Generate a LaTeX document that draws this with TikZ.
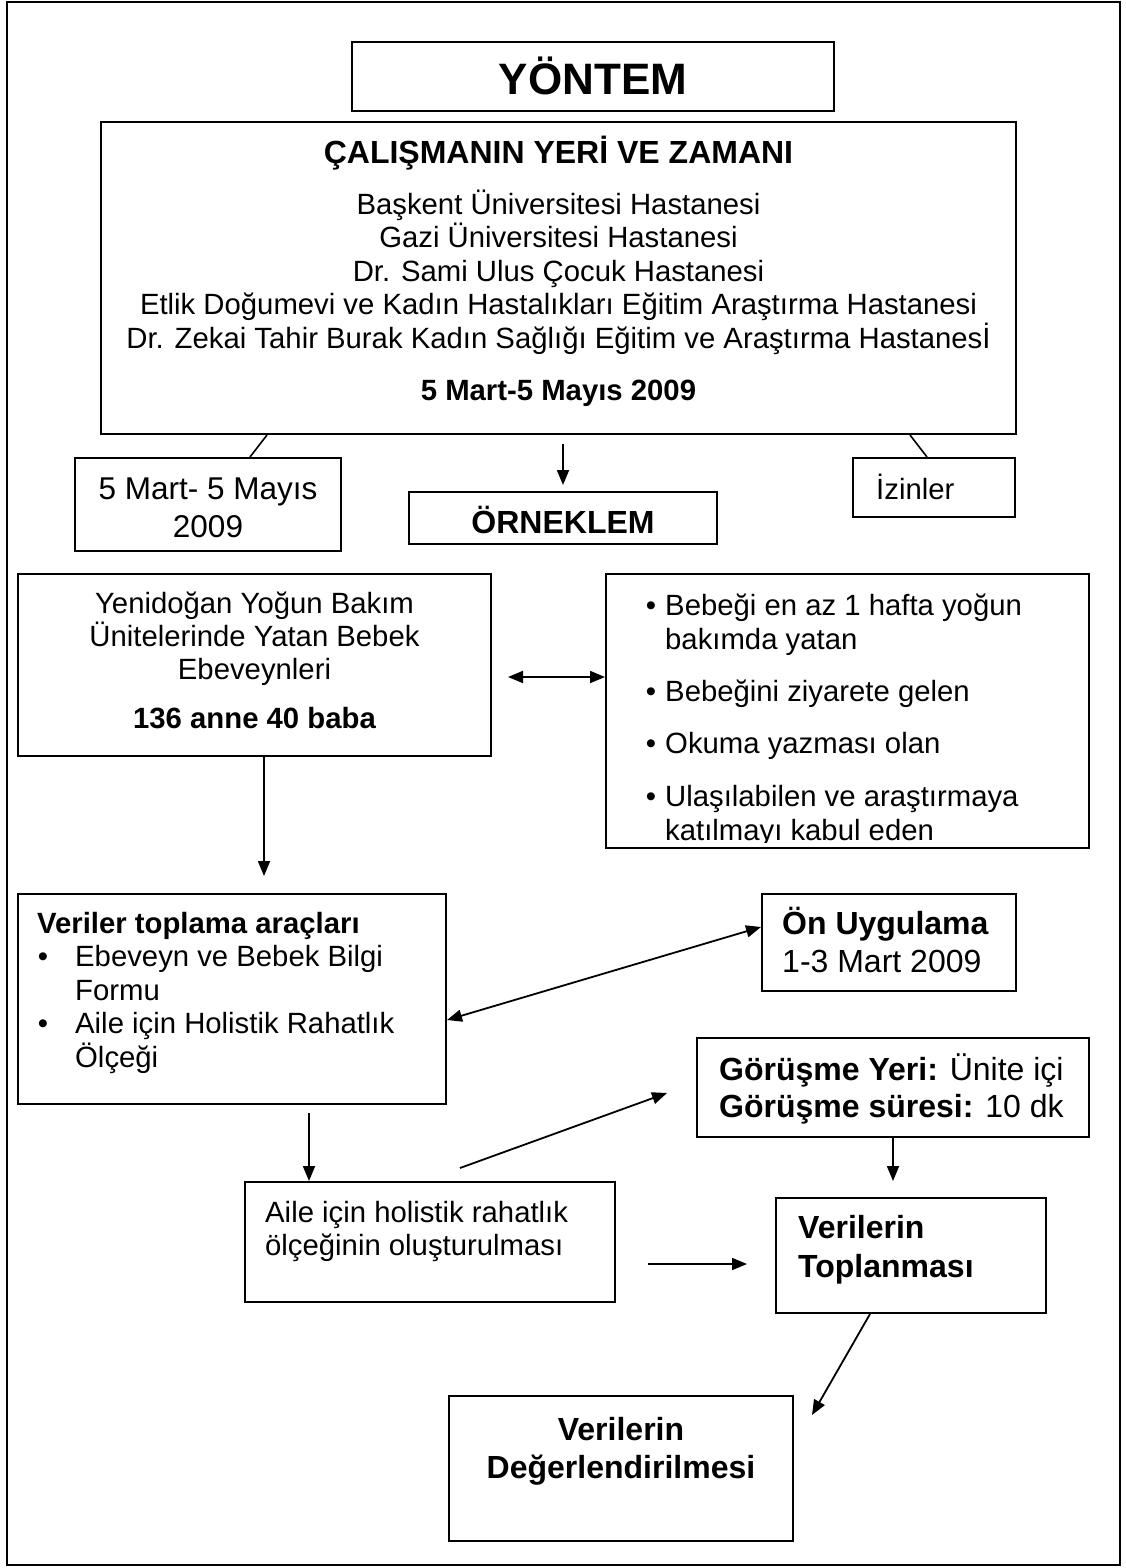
\documentclass[tikz,border=0pt]{standalone}
\usepackage{fontspec}
\setmainfont{Liberation Sans}
\usetikzlibrary{arrows.meta}
\newcommand\fnorm{\fontsize{29.3}{33.5}\selectfont}
\newcommand\fmid{\fontsize{31.5}{37}\selectfont}
\newcommand\fhead{\fontsize{32}{37}\selectfont}
\newcommand\ftitle{\fontsize{44}{50}\selectfont}
\begin{document}
\begin{tikzpicture}[x=1pt,y=-1pt,
  box/.style={draw, line width=2pt, inner sep=0pt, rectangle},
  t/.style={inner sep=0pt, anchor=base, font=\fnorm},
  tl/.style={t, anchor=base west},
  link/.style={line width=1.6pt},
  arr/.style={line width=1.8pt, -{Triangle[length=15pt,width=12pt]}},
  darr/.style={line width=1.8pt, {Triangle[length=15pt,width=12pt]}-{Triangle[length=15pt,width=12pt]}},
]
\useasboundingbox (0,0) rectangle (1126,1568);
\draw[line width=2pt] (7,2) rectangle (1120,1565);

% boxes
\node[box, minimum width=482, minimum height=69]  (yontem) at (593,76.5) {};
\node[box, minimum width=915, minimum height=312] (big)    at (558.5,278) {};
\node[box, minimum width=266, minimum height=93]  (mart)   at (208,504.5) {};
\node[box, minimum width=308, minimum height=52]  (orn)    at (563,518) {};
\node[box, minimum width=162, minimum height=59]  (izin)   at (934,487.5) {};
\node[box, minimum width=473, minimum height=182] (yeni)   at (254.5,665) {};
\node[box, minimum width=483, minimum height=274] (crit)   at (847.5,711) {};
\node[box, minimum width=428, minimum height=210] (veri)   at (232,999) {};
\node[box, minimum width=254, minimum height=97]  (on)     at (889,942.5) {};
\node[box, minimum width=392, minimum height=99]  (gor)    at (893,1087.5) {};
\node[box, minimum width=370, minimum height=120] (aile)   at (430,1242) {};
\node[box, minimum width=270, minimum height=115] (top)    at (911,1255.5) {};
\node[box, minimum width=344, minimum height=145] (deg)    at (621,1468.5) {};

% texts
\node[t, font=\ftitle\bfseries] (yontemT) at (593,95) {YÖNTEM};
\node[t, font=\fhead\bfseries] (bigH) at (558.5,164) {ÇALIŞMANIN YERİ VE ZAMANI};
\node[t] (bigA) at (558.5,214) {Başkent Üniversitesi Hastanesi};
\node[t] (bigB) at (558.5,247.5) {Gazi Üniversitesi Hastanesi};
\node[t] (bigC) at (558.5,281) {Dr. Sami Ulus Çocuk Hastanesi};
\node[t] (bigD) at (558.5,314.5) {Etlik Doğumevi ve Kadın Hastalıkları Eğitim Araştırma Hastanesi};
\node[t] (bigE) at (558.5,348) {Dr. Zekai Tahir Burak Kadın Sağlığı Eğitim ve Araştırma Hastanesİ};
\node[t, font=\fnorm\bfseries] (bigF) at (558.5,400) {5 Mart-5 Mayıs 2009};

\node[t, font=\fmid] (martA) at (208,499) {5 Mart- 5 Mayıs};
\node[t, font=\fmid] (martB) at (208,537) {2009};
\node[t, font=\fhead\bfseries] (ornT) at (563,533) {ÖRNEKLEM};
\node[tl] (izinT) at (876,499) {İzinler};

\node[t] (yeniA) at (254.5,613) {Yenidoğan Yoğun Bakım};
\node[t] (yeniB) at (254.5,646) {Ünitelerinde Yatan Bebek};
\node[t] (yeniC) at (254.5,679) {Ebeveynleri};
\node[t, font=\fnorm\bfseries] (yeniD) at (254.5,728) {136 anne 40 baba};

\node[t] (critB1) at (651,615) {•};
\node[tl] (crit1a) at (665,615) {Bebeği en az 1 hafta yoğun};
\node[tl] (crit1b) at (665,649) {bakımda yatan};
\node[t] (critB2) at (651,701) {•};
\node[tl] (crit2) at (665,701) {Bebeğini ziyarete gelen};
\node[t] (critB3) at (651,753) {•};
\node[tl] (crit3) at (665,753) {Okuma yazması olan};
\node[t] (critB4) at (651,806) {•};
\node[tl] (crit4a) at (665,806) {Ulaşılabilen ve araştırmaya};
\begin{scope}
\clip (606,790) rectangle (1089,842);
\node[tl] (crit4b) at (665,840) {katılmayı kabul eden};
\end{scope}

\node[tl, font=\fnorm\bfseries] (veriH) at (37,933) {Veriler toplama araçları};
\node[t] (veriB1) at (43,966.5) {•};
\node[tl] (veri1a) at (75,966.5) {Ebeveyn ve Bebek Bilgi};
\node[tl] (veri1b) at (75,1000) {Formu};
\node[t] (veriB2) at (43,1033.5) {•};
\node[tl] (veri2a) at (75,1033.5) {Aile için Holistik Rahatlık};
\node[tl] (veri2b) at (75,1067) {Ölçeği};

\node[tl, font=\fhead\bfseries] (onA) at (782,934) {Ön Uygulama};
\node[tl, font=\fhead] (onB) at (782,972) {1-3 Mart 2009};

\node[tl, font=\fhead] (gorA) at (719,1080) {\bfseries Görüşme Yeri:\mdseries{} Ünite içi};
\node[tl, font=\fhead] (gorB) at (719,1117) {\bfseries Görüşme süresi:\mdseries{} 10 dk};

\node[tl] (aileA) at (265,1222) {Aile için holistik rahatlık};
\node[tl] (aileB) at (265,1255) {ölçeğinin oluşturulması};

\node[tl, font=\fhead\bfseries] (topA) at (798,1238) {Verilerin};
\node[tl, font=\fhead\bfseries] (topB) at (798,1277) {Toplanması};

\node[t, font=\fhead\bfseries] (degA) at (621,1440) {Verilerin};
\node[t, font=\fhead\bfseries] (degB) at (621,1478) {Değerlendirilmesi};

% connectors
\coordinate (gs) at (460,1168);
\coordinate (ge) at (667,1093);
\coordinate (de) at (812,1415);

\draw[link] (big.south -| 267,0) -- (mart.north -| 250,0);
\draw[arr, shorten <=9pt, shorten >=6pt] (big.south -| orn.north) -- (orn.north);
\draw[link] (big.south -| 910,0) -- (izin.north -| 927,0);
\draw[darr, shorten <=16pt] (yeni.east |- 0,677) -- (crit.west |- 0,677);
\draw[arr, shorten >=17pt] (yeni.south -| 264,0) -- (veri.north -| 264,0);
\draw[darr] (veri.east |- 0,1020) -- (on.west |- 0,927);
\draw[arr, shorten <=8pt] (veri.south -| 309,0) -- (aile.north -| 309,0);
\draw[arr] (gs) -- (ge);
\draw[arr, shorten <=32pt, shorten >=28pt] (aile.east |- 0,1264) -- (top.west |- 0,1264);
\draw[arr, shorten >=16pt] (gor.south -| 893,0) -- (top.north -| 893,0);
\draw[arr] (top.south -| 870,0) -- (de);
\end{tikzpicture}
\end{document}
